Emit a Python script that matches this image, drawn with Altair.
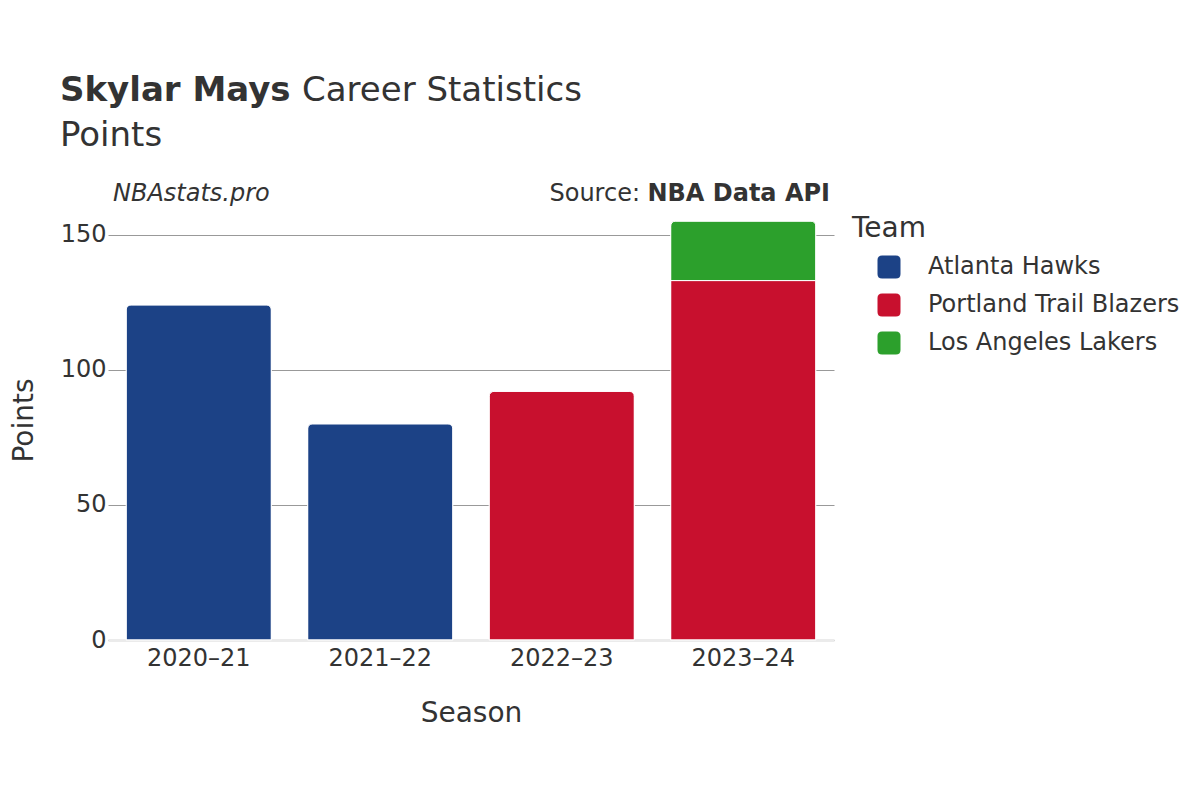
import altair as alt
import pandas as pd

seasons = ["2020–21", "2021–22", "2022–23", "2023–24", "2023–24"]
teams = ["Atlanta Hawks", "Atlanta Hawks", "Portland Trail Blazers",
         "Portland Trail Blazers", "Los Angeles Lakers"]
points = [124, 80, 92, 133, 22]
team_order = ["Atlanta Hawks", "Portland Trail Blazers", "Los Angeles Lakers"]
team_colors = ["#1c4286", "#c8102e", "#2ca02c"]
season_order = ["2020–21", "2021–22", "2022–23", "2023–24"]

df = pd.DataFrame({"Season": seasons, "Team": teams, "Points": points})
df["order"] = df["Team"].map({t: i for i, t in enumerate(team_order)})

FONT = "DejaVu Sans"
TXT = "#333333"

rounded = ("M -0.6 -1 L 0.6 -1 Q 1 -1 1 -0.6 L 1 0.6 Q 1 1 0.6 1 "
           "L -0.6 1 Q -1 1 -1 0.6 L -1 -0.6 Q -1 -1 -0.6 -1 Z")

bars = alt.Chart(df).mark_bar(
    cornerRadiusEnd=5, stroke="white", strokeWidth=1
).encode(
    x=alt.X("Season:N", sort=season_order,
            scale=alt.Scale(paddingInner=0.2, paddingOuter=0.1),
            axis=alt.Axis(title="Season", labelAngle=0, labelFontSize=24,
                          titleFontSize=28, titleFontWeight="normal",
                          labelPadding=6, titlePadding=29, ticks=False,
                          domainColor="#ebebeb", domainWidth=3,
                          labelColor=TXT, titleColor=TXT)),
    y=alt.Y("Points:Q", stack="zero",
            scale=alt.Scale(domain=[0, 158], nice=False),
            axis=alt.Axis(title="Points", values=[0, 50, 100, 150],
                          labelFontSize=24, titleFontSize=28,
                          titleFontWeight="normal", ticks=False, domain=False,
                          gridColor="#999999", gridWidth=1, labelPadding=2,
                          titlePadding=22, titleY=207,
                          labelColor=TXT, titleColor=TXT)),
    color=alt.Color("Team:N", sort=team_order,
                    scale=alt.Scale(domain=team_order, range=team_colors),
                    legend=alt.Legend(title="Team", orient="none",
                                      legendX=744, legendY=2,
                                      titleFontSize=28, titleFontWeight="normal",
                                      labelFontSize=24, labelLimit=400,
                                      symbolType=rounded,
                                      symbolSize=529, symbolStrokeWidth=0,
                                      symbolOffset=25, labelOffset=27,
                                      rowPadding=14, titlePadding=12,
                                      titleColor=TXT, labelColor=TXT)),
    order=alt.Order("order:Q"),
)

def txt(text, x, y, size, weight="normal", style="normal", align="left"):
    return alt.Chart(alt.Data(values=[{}])).mark_text(
        text=text, fontSize=size, fontWeight=weight, fontStyle=style,
        align=align, baseline="alphabetic", color=TXT, font=FONT
    ).encode(x=alt.value(x), y=alt.value(y))

layers = [
    bars,
    txt("Skylar Mays", -48, -112, 34, weight="bold"),
    txt("Career Statistics", 194, -112, 34),
    txt("Points", -48, -67, 34),
    txt("NBAstats.pro", 5, -12, 24, style="italic"),
    txt("Source:", 532, -12, 24, align="right"),
    txt("NBA Data API", 722, -12, 24, weight="bold", align="right"),
]

chart = alt.layer(*layers).properties(
    width=726, height=427,
    autosize=alt.AutoSizeParams(type="none"),
    padding={"left": 100, "top": 205, "right": 358, "bottom": 152},
).configure(font=FONT).configure_view(stroke=None)

chart.save("out.html", embed_options={"renderer": "svg", "actions": False})
